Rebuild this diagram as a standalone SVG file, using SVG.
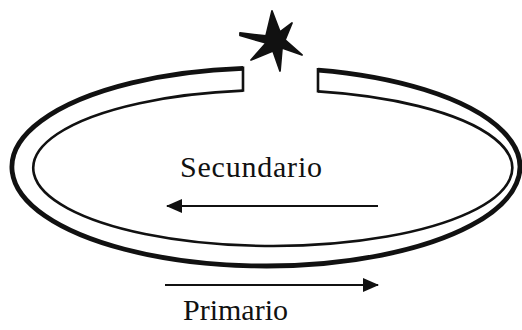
<svg xmlns="http://www.w3.org/2000/svg" width="522" height="330" viewBox="0 0 522 330">
<style>
.lbl{font-family:"Liberation Serif",serif;font-size:30px;fill:#111}
.ring{fill:none;stroke:#111;stroke-linecap:butt}
.arrow{stroke:#111;stroke-width:2.2;fill:none}
</style>
<defs>
<marker id="ah" viewBox="0 0 16 14" refX="15" refY="7" markerWidth="16" markerHeight="14" markerUnits="userSpaceOnUse" orient="auto">
<path d="M0,0 L16,7 L0,14 Z" fill="#111"/>
</marker>
</defs>
<rect width="522" height="330" fill="#fff"/>
<g id="ring">
<path class="ring" stroke-width="4.8" d="M243,68.4 A254,99 0 1 0 318,70.1"/>
<path class="ring" stroke-width="2.6" d="M243,90.6 A239.5,78 0 1 0 318,91.4"/>
<path class="ring" stroke-width="2.6" d="M243,66.5 V91.8 M318,68 V92.6"/>
</g>
<g id="spark">
<polygon fill="#111" stroke="#111" stroke-width="1.8" stroke-linejoin="round" points="272,11 280,32 292,23 285,40 302,55 282,48 280,71 273,51 251,60 266,43 240,35.5 240,33 266,36"/>
</g>
<g id="secundario">
<text class="lbl" x="180" y="177" textLength="142" lengthAdjust="spacing">Secundario</text>
</g>
<g id="primario">
<text class="lbl" x="183" y="320">Primario</text>
</g>
<g id="connectors">
<line class="arrow" x1="378" y1="206" x2="167" y2="206" marker-end="url(#ah)"/>
<line class="arrow" x1="165" y1="285" x2="378" y2="285" marker-end="url(#ah)"/>
</g>
</svg>
